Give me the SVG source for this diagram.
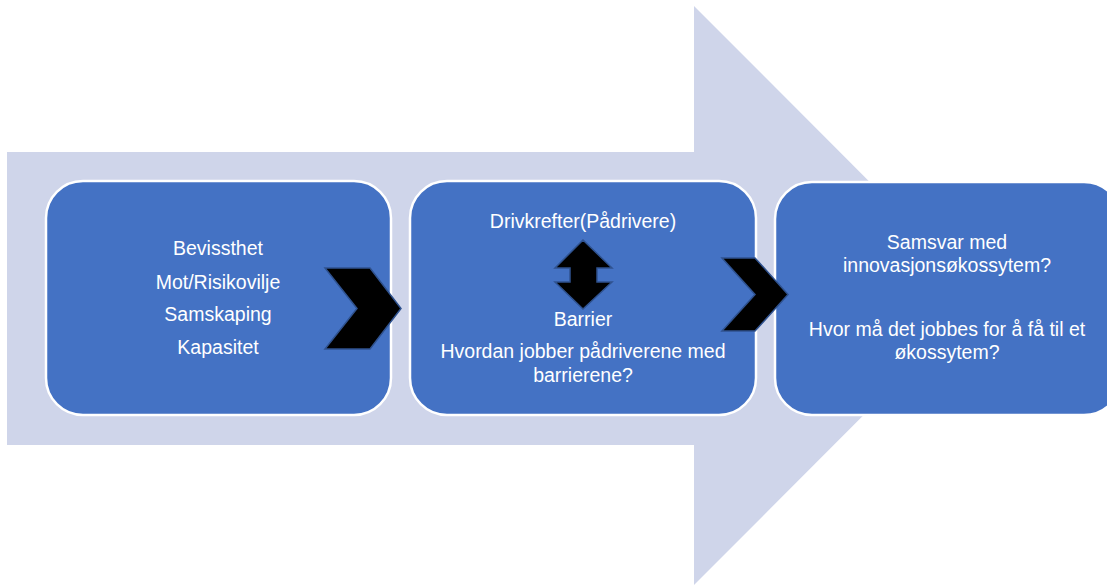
<svg xmlns="http://www.w3.org/2000/svg" width="1107" height="586" viewBox="0 0 1107 586">
<style>
.box{fill:#4472C4;stroke:#FFFFFF;stroke-width:2.5}
.t{font-family:"Liberation Sans",Arial,sans-serif;font-size:19.5px;fill:#FFFFFF;text-anchor:middle}
.blk{fill:#000000;stroke:#2F528F;stroke-width:1.5;stroke-linejoin:miter}
</style>
<rect width="1107" height="586" fill="#FFFFFF"/>
<g id="big-arrow">
<polygon points="7,152 694,152 694,6 983,295.5 694,585 694,445 7,445" fill="#CFD5EA"/>
</g>
<g id="node1">
<rect class="box" x="46" y="181" width="345" height="234" rx="37" ry="37"/>
<text class="t" x="218" y="255">Bevissthet</text>
<text class="t" x="218" y="289">Mot/Risikovilje</text>
<text class="t" x="218" y="321">Samskaping</text>
<text class="t" x="218" y="354">Kapasitet</text>
</g>
<g id="node2">
<rect class="box" x="410" y="181" width="346" height="234" rx="37" ry="37"/>
<text class="t" x="583" y="228">Drivkrefter(Pådrivere)</text>
<text class="t" x="583" y="326">Barrier</text>
<text class="t" x="583" y="358">Hvordan jobber pådriverene med</text>
<text class="t" x="583" y="382">barrierene?</text>
</g>
<g id="node3">
<rect class="box" x="775" y="182" width="346" height="233" rx="37" ry="37"/>
<text class="t" x="947" y="249">Samsvar med</text>
<text class="t" x="947" y="272">innovasjonsøkossytem?</text>
<text class="t" x="947" y="336">Hvor må det jobbes for å få til et</text>
<text class="t" x="947" y="359">økossytem?</text>
</g>
<g id="connectors">
<polygon class="blk" points="325,268 370,268 401,308.5 370,349 325,349 357,308.5"/>
<polygon class="blk" points="722,258 755,258 788,294.5 755,331 722,331 755,294.5"/>
<polygon class="blk" points="583,240 612,268 597,268 597,282 612,282 583,309 555,282 570,282 570,268 555,268"/>
</g>
</svg>
